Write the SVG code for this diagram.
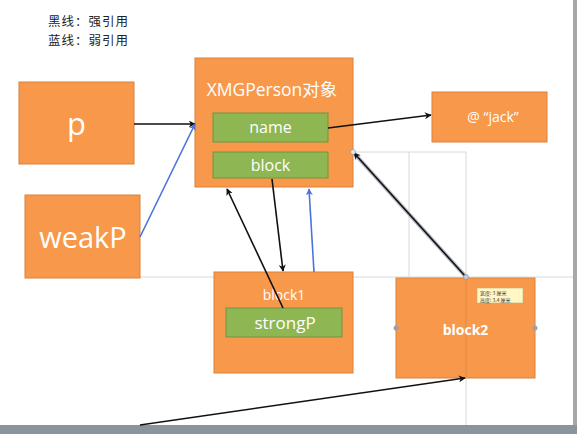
<svg xmlns="http://www.w3.org/2000/svg" width="577" height="434" viewBox="0 0 577 434">
<style>
.box{fill:#F8984B;stroke:#D9823C;stroke-width:1}
.field{fill:#8EB652;stroke:#6E9540;stroke-width:1}
.t{font-family:"Open Sans","Liberation Sans","Noto Sans CJK SC",sans-serif;fill:#FFFFFF;text-anchor:middle}
.grid{stroke:#D8D8D8;stroke-width:1;fill:none}
.k{stroke:#111111;stroke-width:1.6;fill:none;marker-end:url(#ak)}
.b{stroke:#4A74D9;stroke-width:1.6;fill:none;marker-end:url(#ab)}
.legend{font-family:"Noto Sans CJK SC",sans-serif;font-size:12.5px;fill:#222222;letter-spacing:1px}
</style>
<defs>
<marker id="ak" viewBox="0 0 10 10" refX="9" refY="5" markerWidth="7" markerHeight="7" orient="auto-start-reverse" markerUnits="userSpaceOnUse">
<path d="M0,0 L10,5 L0,10 L3,5 Z" fill="#111111"/>
</marker>
<marker id="ab" viewBox="0 0 10 10" refX="9" refY="5" markerWidth="7" markerHeight="7" orient="auto-start-reverse" markerUnits="userSpaceOnUse">
<path d="M0,0 L10,5 L0,10 L3,5 Z" fill="#4A74D9"/>
</marker>
</defs>
<rect x="0" y="0" width="577" height="434" fill="#FFFFFF"/>
<rect x="573" y="0" width="4" height="434" fill="#A8A8A8"/>
<rect x="0" y="425" width="577" height="9" fill="#8C949B"/>
<g id="grid">
<line class="grid" x1="140" y1="277" x2="573" y2="277"/>
<line class="grid" x1="353" y1="152" x2="466" y2="152"/>
<line class="grid" x1="409" y1="152" x2="409" y2="277"/>
<line class="grid" x1="466" y1="152" x2="466" y2="425"/>
</g>
<g id="legend">
<text class="legend" x="48" y="26">黑线：强引用</text>
<text class="legend" x="48" y="45">蓝线：弱引用</text>
</g>
<g id="node-p">
<rect class="box" x="19" y="82" width="115" height="82"/>
<text class="t" x="76.5" y="135" font-size="31">p</text>
</g>
<g id="node-weakP">
<rect class="box" x="25" y="195" width="115" height="83"/>
<text class="t" x="83" y="248" font-size="29">weakP</text>
</g>
<g id="node-person">
<rect class="box" x="195" y="58" width="158" height="129"/>
<text class="t" x="272" y="96" font-size="17.5">XMGPerson对象</text>
<g id="field-name">
<rect class="field" x="213" y="113" width="115" height="29"/>
<text class="t" x="270.5" y="133" font-size="16">name</text>
</g>
<g id="field-block">
<rect class="field" x="213" y="152" width="115" height="26"/>
<text class="t" x="270.5" y="171" font-size="16">block</text>
</g>
</g>
<g id="node-jack">
<rect class="box" x="432" y="92" width="115" height="50"/>
<text class="t" x="493" y="122" font-size="14">@ “jack”</text>
</g>
<g id="node-block1">
<rect class="box" x="214" y="272" width="139" height="101"/>
<text class="t" x="284" y="300" font-size="14">block1</text>
<g id="field-strongP">
<rect class="field" x="226" y="308" width="116" height="29"/>
<text class="t" x="285" y="329" font-size="17">strongP</text>
</g>
</g>
<g id="node-block2">
<rect class="box" x="396" y="278" width="139" height="100"/>
<line x1="466" y1="278" x2="466" y2="378" stroke="#E08A45" stroke-width="1"/>
<text class="t" x="465.5" y="335" font-size="14" font-weight="bold" font-family="Liberation Sans,sans-serif">block2</text>
<circle cx="396" cy="328" r="2.5" fill="#9AA0B0"/>
<circle cx="535" cy="328" r="2.5" fill="#9AA0B0"/>
<g id="tooltip">
<rect x="477" y="288" width="46" height="15" fill="#FFF7C6" stroke="#C8B070" stroke-width="0.6"/>
<text x="480" y="295" font-family="Noto Sans CJK SC,sans-serif" font-size="5" fill="#333333">宽度: 3 厘米</text>
<text x="480" y="301.5" font-family="Noto Sans CJK SC,sans-serif" font-size="5" fill="#333333">高度: 3.4 厘米</text>
</g>
</g>
<g id="connectors">
<line class="k" x1="134" y1="124" x2="195" y2="124"/>
<line class="b" x1="140" y1="237" x2="195" y2="124"/>
<line class="k" x1="328" y1="128" x2="431" y2="115"/>
<line class="k" x1="272" y1="179" x2="283" y2="271"/>
<line class="k" x1="283" y1="308" x2="227" y2="189"/>
<line class="b" x1="314" y1="272" x2="309" y2="189"/>
<line x1="466" y1="277" x2="353" y2="152" stroke="#B8BCC8" stroke-width="4"/>
<line class="k" x1="466" y1="277" x2="354" y2="153"/>
<circle cx="353" cy="152" r="2.5" fill="#E8E8E8" stroke="#888" stroke-width="0.6"/>
<circle cx="466" cy="277" r="2.5" fill="#C9CCD8" stroke="#888" stroke-width="0.6"/>
<line class="k" x1="140" y1="425" x2="465" y2="378"/>
</g>
</svg>
